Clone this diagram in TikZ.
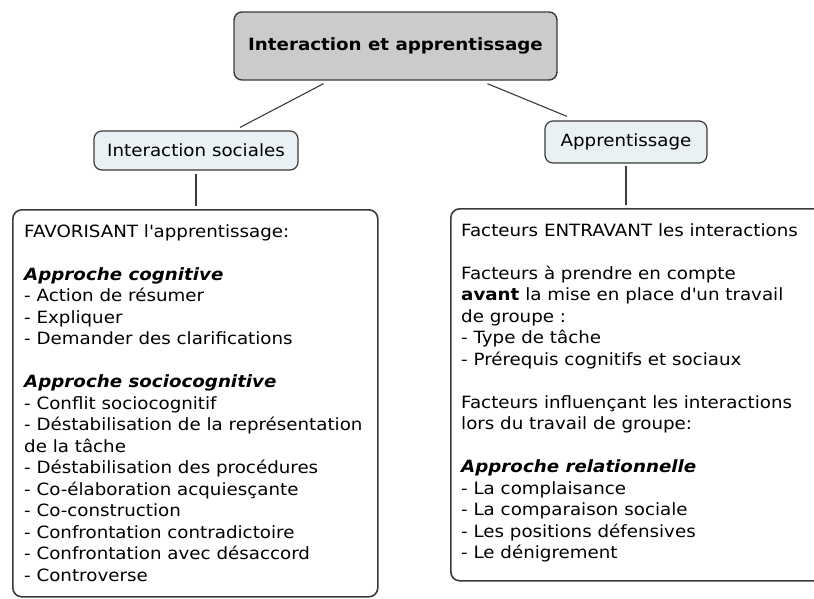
\documentclass[tikz,border=0pt]{standalone}
\usepackage{fontspec}
\setmainfont{DejaVu Sans}[FakeStretch=1.08]
\usetikzlibrary{positioning,calc}
\definecolor{cA}{HTML}{3a3a3a}
\definecolor{cB}{HTML}{cbcbcb}
\definecolor{cC}{HTML}{eaf1f5}
\tikzset{
  root/.style={rounded corners=8pt,draw=cA,line width=1.4pt,fill=cB,minimum width=323pt,minimum height=68pt,font=\fontsize{16.9}{21.5}\selectfont\bfseries},
  topic/.style={rounded corners=8pt,draw=cA,line width=1.2pt,fill=cC},
  panel/.style={rounded corners=9pt,draw=cA,line width=1.6pt,fill=white,inner sep=0pt,anchor=north west},
  notes/.style={anchor=north west,align=left,inner sep=0pt},
  link/.style={draw=cA,line width=1.1pt},
}
\newcommand{\head}[1]{\textbf{\textit{#1}}}

\begin{document}
\begin{tikzpicture}[x=1pt,y=-1pt,font=\fontsize{16.9}{21.5}\selectfont]
\useasboundingbox (0,0) rectangle (814,598);
% concepts
\node[root] (title) at (395.5,46) {Interaction et apprentissage};
\node[topic,minimum width=204pt,minimum height=39pt] (soc) at (196,150.5) {Interaction sociales};
\node[topic,minimum width=162pt,minimum height=42pt] (app) at (626,142) {Apprentissage};
\node[panel,minimum width=365pt,minimum height=387pt] (fav) at (12,209) {};
\node[panel,minimum width=380pt,minimum height=372pt] (ent) at (450,208) {};

% panel texts
\node[notes] (favtxt) at ([xshift=12pt,yshift=-15pt]fav.north west) {%
  FAVORISANT l\textquotesingle apprentissage:\\[21.5pt]
  \head{Approche cognitive}\\
  - Action de résumer\\
  - Expliquer\\
  - Demander des clarifications\\[21.5pt]
  \head{Approche sociocognitive}\\
  - Conflit sociocognitif\\
  - Déstabilisation de la représentation\\
  de la tâche\\
  - Déstabilisation des procédures\\
  - Co-élaboration acquiesçante\\
  - Co-construction\\
  - Confrontation contradictoire\\
  - Confrontation avec désaccord\\
  - Controverse};
\node[notes] (enttxt) at ([xshift=11pt,yshift=-15pt]ent.north west) {%
  Facteurs ENTRAVANT les interactions\\[21.5pt]
  Facteurs à prendre en compte\\
  \textbf{avant} la mise en place d\textquotesingle un travail\\
  de groupe :\\
  - Type de tâche\\
  - Prérequis cognitifs et sociaux\\[21.5pt]
  Facteurs influençant les interactions\\
  lors du travail de groupe:\\[21.5pt]
  \head{Approche relationnelle}\\
  - La complaisance\\
  - La comparaison sociale\\
  - Les positions défensives\\
  - Le dénigrement};

% links
\coordinate (socfoot) at (soc.south |- fav.north);
\coordinate (appfoot) at (app.south |- ent.north);
\draw[link] ([xshift=-72pt,yshift=-3pt]title.south) -- ([xshift=44pt,yshift=3pt]soc.north);
\draw[link] ([xshift=92pt,yshift=-3pt]title.south) -- ([xshift=-59pt,yshift=4pt]app.north);
\draw[link] ([yshift=-3pt]soc.south) -- ([yshift=3pt]socfoot);
\draw[link] ([yshift=-2pt]app.south) -- ([yshift=3pt]appfoot);
\end{tikzpicture}
\end{document}
